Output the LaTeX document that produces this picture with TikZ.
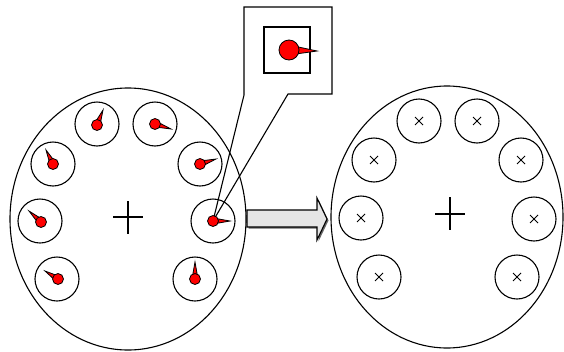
\documentclass[tikz,border=0pt]{standalone}
\usetikzlibrary{calc}
\begin{document}
\begin{tikzpicture}[x=1pt,y=-1pt,line width=1.1pt,
  dish/.style={draw,ellipse,inner sep=0pt},
  well/.style={draw,circle,minimum size=44pt,inner sep=0pt},
  dot/.style={circle,fill=red,draw=black,line width=0.8pt,minimum size=11pt,inner sep=0pt},
  bigdot/.style={dot,minimum size=20pt},
  needle/.style={fill=red,draw=black,line width=0.8pt,line join=miter},
  mark cross/.style={line width=1pt},
  crosshair/.style={line width=1.3pt}]
\useasboundingbox (0,0) rectangle (564,351);

% ---- left dish ----
\draw (128,219) ellipse [x radius=118, y radius=131];
\draw[crosshair] (113,217) -- (143,217) (128,201) -- (128,234);

% wells with oriented particles: well centre, dot centre, needle tip
\foreach \i/\wx/\wy/\dx/\dy/\tx/\ty in {
  1/97/124/97/125/103/110,
  2/155/124/155/124/171/129,
  3/53/164/53/164/46/150,
  4/200/164/200/164/216/159,
  5/40/221/41/222/29/211,
  6/213/221/213/221/230/221,
  7/57/279/58/279/45/271,
  8/195/279/195/279/195/262}{
  \node[well] (lw\i) at (\wx,\wy) {};
  \coordinate (lc\i) at (\dx,\dy);
  \coordinate (lt\i) at (\tx,\ty);
}

% callout from well 6 to the magnified view
\coordinate (mc) at (289,50);
\coordinate (mt) at (317,51);
\draw[line join=miter] (lc6) -- (244,95) -- (244,7) -- (332,7) -- (332,94) -- (288,94) -- (lc6);
\node[draw,minimum size=46pt,inner sep=0pt] (zoombox) at (287,50) {};
\fill[needle] ($(mc)!5pt!90:(mt)$) -- (mt) -- ($(mc)!5pt!-90:(mt)$) -- cycle;
\node[bigdot] (md) at (mc) {};

\foreach \i in {1,...,8}{
  \fill[needle] ($(lc\i)!3pt!90:(lt\i)$) -- (lt\i) -- ($(lc\i)!3pt!-90:(lt\i)$) -- cycle;
  \node[dot] (ld\i) at (lc\i) {};
}

% ---- block arrow ----
\fill[black!60] (248.5,211.5) -- (318.5,211.5) -- (318.5,199.5) -- (328.5,220.5) -- (318.5,241.5) -- (318.5,228.5) -- (248.5,228.5) -- cycle;
\draw[fill=black!10,line join=miter] (247,210) -- (317,210) -- (317,198) -- (327,219) -- (317,240) -- (317,227) -- (247,227) -- cycle;

% ---- right dish ----
\draw (447,217) ellipse [x radius=116, y radius=131];
\draw[crosshair] (435,214) -- (465,214) (450,197) -- (450,230);

\foreach \i/\wx/\wy in {1/419/121,2/477/121,3/374/160,4/521/160,
                        5/361/218,6/534/219,7/379/277,8/517/277}{
  \node[well] (rw\i) at (\wx,\wy) {};
  \draw[mark cross] ($(rw\i)+(-4,-4)$) -- ($(rw\i)+(4,4)$)
                    ($(rw\i)+(-4,4)$) -- ($(rw\i)+(4,-4)$);
}
\end{tikzpicture}
\end{document}
